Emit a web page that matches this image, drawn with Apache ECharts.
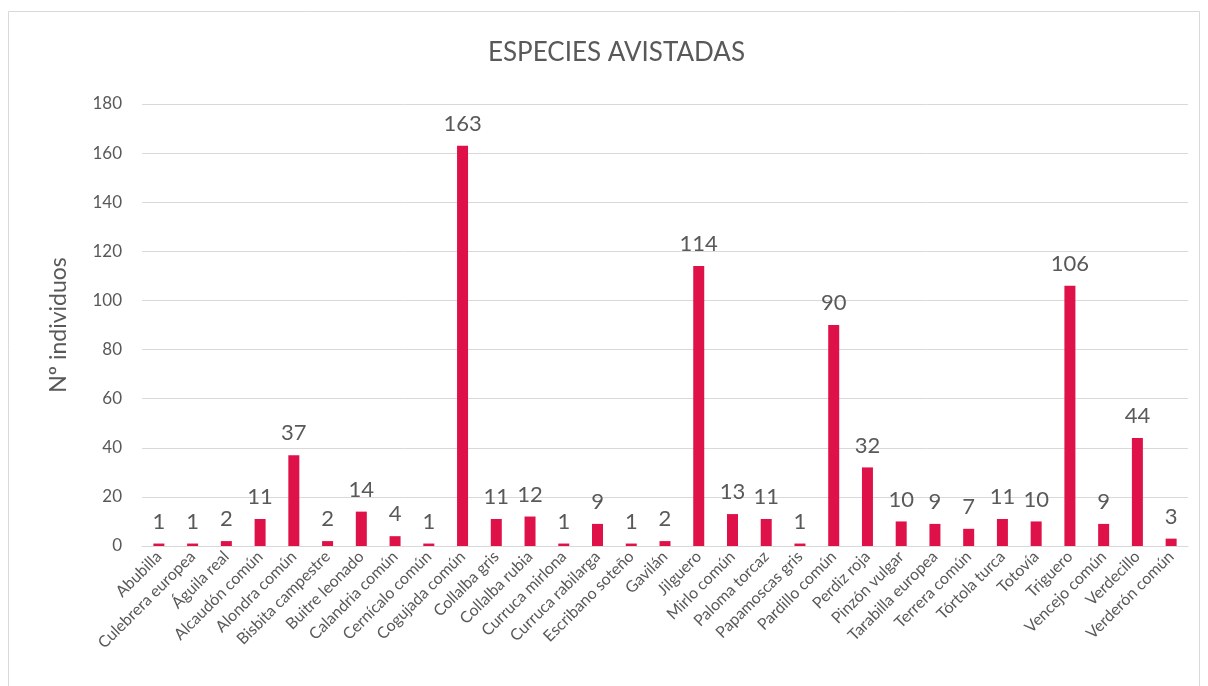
<!DOCTYPE html>
<html>
<head>
<meta charset="utf-8">
<title>Especies avistadas</title>
<style>
html,body{margin:0;padding:0;background:#fff;}
#container{width:1208px;height:686px;}
</style>
</head>
<body>
<div id="container"></div>
<script src="https://cdn.jsdelivr.net/npm/echarts@6/dist/echarts.min.js"></script>
<script>
var especies = ['Abubilla','Culebrera europea','Águila real','Alcaudón común','Alondra común',
    'Bisbita campestre','Buitre leonado','Calandria común','Cernícalo común','Cogujada común',
    'Collalba gris','Collalba rubia','Curruca mirlona','Curruca rabilarga','Escribano soteño',
    'Gavilán','Jilguero','Mirlo común','Paloma torcaz','Papamoscas gris','Pardillo común',
    'Perdiz roja','Pinzón vulgar','Tarabilla europea','Terrera común','Tórtola turca',
    'Totovía','Triguero','Vencejo común','Verdecillo','Verderón común'];
var individuos = [1,1,2,11,37,2,14,4,1,163,11,12,1,9,1,2,114,13,11,1,90,32,10,9,7,11,10,106,9,44,3];
var yTicks = [0,20,40,60,80,100,120,140,160,180];

var fuente = 'Lato, "Open Sans", sans-serif';
var option = {
    animation: false,
    textStyle: { fontFamily: fuente },
    graphic: [{
        type: 'rect',
        shape: { x: 8.5, y: 11.5, width: 1191, height: 690 },
        style: { fill: 'none', stroke: '#d9d9d9', lineWidth: 1 },
        silent: true
    }],
    title: {
        text: 'ESPECIES AVISTADAS',
        left: 483,
        top: 35,
        textStyle: { fontFamily: fuente, fontSize: 26, fontWeight: 'normal', color: '#595959' }
    },
    grid: { left: 142, right: 20, top: 104, bottom: 140, containLabel: false },
    xAxis: {
        type: 'category',
        data: especies,
        axisLine: { lineStyle: { color: '#d9d9d9' } },
        axisTick: { show: false },
        axisLabel: {
            rotate: 45,
            interval: 0,
            margin: 8,
            fontFamily: fuente,
            fontSize: 16,
            color: '#595959'
        }
    },
    yAxis: {
        type: 'value',
        min: yTicks[0],
        max: yTicks[yTicks.length - 1],
        interval: 20,
        name: 'Nº individuos',
        nameLocation: 'middle',
        nameGap: 72,
        nameTextStyle: { fontFamily: fuente, fontSize: 23, color: '#595959' },
        axisLine: { show: false },
        axisTick: { show: false },
        splitLine: { lineStyle: { color: '#d9d9d9' } },
        axisLabel: { margin: 20, fontFamily: fuente, fontSize: 17, color: '#595959' }
    },
    series: [{
        type: 'bar',
        data: individuos,
        barWidth: 11,
        itemStyle: { color: '#DE1248' },
        label: {
            show: true,
            position: 'top',
            distance: 11,
            fontFamily: fuente,
            fontSize: 22,
            color: '#595959'
        }
    }]
};
var myChart = echarts.init(document.getElementById('container'));
myChart.setOption(option, true);
</script>
</body>
</html>
